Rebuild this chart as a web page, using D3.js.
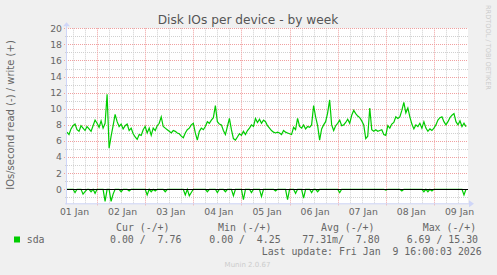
<!DOCTYPE html>
<html>
<head>
<meta charset="utf-8">
<script src="https://cdn.jsdelivr.net/npm/d3@7"></script>
<style>
  body { margin: 0; background: #f0f0f0; }
  svg { display: block; }
  text { font-family: "DejaVu Sans", sans-serif; fill: #666; }
  .mono { font-family: "DejaVu Sans Mono", monospace; font-size: 9.9px; }
</style>
</head>
<body>
<svg id="chart" width="497" height="275"></svg>
<script>
// hourly samples, starting 01 Jan 09:00 UTC
let startTime = Date.UTC(2026, 0, 1, 9)
let endTime = Date.UTC(2026, 0, 9, 17)

let writes = [
  7.1, 6.8, 7.5, 7.9, 8.1, 7.4, 7.2, 7.9, 7.6, 7.3,
  7.8, 7.5, 7.2, 7.9, 8.6, 8.2, 7.7, 8.5, 7.6, 8.2,
  11.8, 5.1, 6.6, 7.9, 9.3, 8.4, 7.8, 8.1, 7.5, 7.9,
  8.1, 7.3, 7.6, 6.9, 6.5, 6.2, 6.8, 6.7, 7.4, 7.8,
  7.0, 7.6, 6.7, 7.6, 7.3, 7.9, 8.2, 9.0, 7.8, 7.6,
  7.4, 7.2, 7.0, 7.3, 7.2, 7.0, 6.9, 6.6, 6.4, 7.0,
  7.4, 7.6, 8.0, 8.2, 7.0, 6.1, 7.2, 7.6, 7.4, 7.8,
  8.4, 8.2, 8.6, 8.9, 10.4, 8.4, 8.1, 8.0, 7.3, 6.8,
  7.8, 8.8, 7.4, 6.3, 6.1, 6.5, 6.9, 6.7, 7.2, 6.8,
  7.3, 7.6, 8.0, 7.8, 8.8, 8.3, 8.7, 8.2, 8.6, 8.4,
  7.9, 7.6, 7.3, 7.1, 7.0, 7.1, 7.0, 6.8, 7.3, 7.1,
  7.0, 6.9, 6.8, 7.7, 7.4, 8.8, 7.8, 7.6, 8.0, 7.5,
  7.8, 7.7, 8.0, 10.4, 9.0, 7.9, 6.1, 7.5, 8.0, 8.4,
  9.5, 11.1, 8.0, 7.3, 7.9, 8.2, 8.6, 7.9, 8.0, 8.3,
  8.7, 8.2, 9.2, 9.8, 9.4, 9.1, 8.9, 8.5, 8.0, 6.3,
  6.6, 10.1, 7.4, 7.2, 7.4, 7.2, 7.3, 7.4, 6.8, 6.7,
  7.9, 7.6, 8.1, 8.3, 9.0, 8.8, 9.0, 9.8, 10.8, 9.5,
  10.1, 9.0, 8.1, 7.5, 8.0, 7.8, 8.2, 7.6, 8.4, 7.6,
  7.2, 7.5, 7.3, 7.6, 8.0, 8.6, 8.9, 9.0, 8.4, 8.0,
  8.4, 8.9, 9.2, 9.4, 8.4, 8.0, 8.5, 7.8, 8.2, 7.76
]

let reads = [
  0, 0, 0, 0, 0.4, 0, 0, 0, 0.6, 0.3,
  0, 0, 0.3, 0, 0.5, 0, 0, 0, 0, 1.5,
  0, 0, 1.5, 0.6, 0, 0, 0, 0.3, 0, 0,
  0, 0.2, 0, 0, 0, 0, 0, 0, 0, 0,
  0.7, 0, 0.3, 0, 0.2, 0, 0, 0, 0, 0.3,
  0, 0, 0, 0, 0, 0, 0, 0, 0, 0.7,
  0, 0.8, 0.4, 0, 0, 0, 0, 0, 0, 0,
  0.3, 0, 0, 0, 0, 0.4, 0, 0, 0, 0.3,
  0, 0, 0, 0.8, 0, 0, 0, 0, 1.3, 0,
  0, 0, 0.4, 0, 0, 0, 0, 0.9, 0, 0,
  0, 0, 0, 0, 0.2, 0, 0, 0, 0, 0,
  1.3, 0, 0, 0, 0.5, 0, 0, 0, 1.1, 0,
  0, 0, 0.4, 0, 0, 0.3, 0, 0, 0, 0,
  0, 0, 0, 0, 0, 0, 0.4, 0, 0, 0,
  0, 0, 0, 0, 0, 0, 0, 0, 0, 0,
  0, 0, 0, 0, 0, 0, 0, 0, 0, 0.1,
  0, 0, 0, 0, 0, 0, 0, 0.2, 0, 0,
  0, 0, 0, 0, 0, 0, 0, 0, 0.3, 0,
  0.3, 0, 0.2, 0, 0, 0, 0, 0, 0, 0,
  0, 0, 0, 0, 0, 0, 0, 0, 0.7, 0
]

let yMajor = [0, 2, 4, 6, 8, 10, 12, 14, 16, 18, 20]
let yMinor = [-1, 1, 3, 5, 7, 9, 11, 13, 15, 17, 19]

let legendHead = ['Cur (-/+)', 'Min (-/+)', 'Avg (-/+)', 'Max (-/+)']
let legendVals = ['0.00 /  7.76', '0.00 /  4.25', '77.31m/  7.80', '6.69 / 15.30']
let lastUpdate = 'Last update: Fri Jan  9 16:00:03 2026'

const svg = d3.select('#chart')

const plotLeft = 67, plotRight = 468, plotTop = 28.3, plotBottom = 203.3

let x = d3.scaleUtc().domain([startTime, endTime]).range([plotLeft, plotRight])
let y = d3.scaleLinear().domain([-1.74, 20]).range([plotBottom, plotTop])

let timeOf = i => d3.utcHour.offset(new Date(startTime), i)

// canvas
svg.append('rect')
  .attr('x', plotLeft).attr('y', plotTop)
  .attr('width', plotRight - plotLeft).attr('height', plotBottom - plotTop)
  .attr('fill', '#fff')

// minor grid
let minorTimes = d3.utcHour.every(6).range(new Date(startTime), new Date(endTime))
  .filter(d => d.getUTCHours() !== 0)
svg.append('g').selectAll('line')
  .data(minorTimes)
  .enter()
  .append('line')
  .attr('x1', d => Math.round(x(d)) + 0.5).attr('x2', d => Math.round(x(d)) + 0.5)
  .attr('y1', plotTop).attr('y2', plotBottom)
  .attr('stroke', '#d0d0d0').attr('stroke-dasharray', '1,1')

svg.append('g').selectAll('line')
  .data(yMinor)
  .enter()
  .append('line')
  .attr('x1', plotLeft - 2).attr('x2', plotRight)
  .attr('y1', d => Math.round(y(d)) + 0.5).attr('y2', d => Math.round(y(d)) + 0.5)
  .attr('stroke', '#d0d0d0').attr('stroke-dasharray', '1,1')

// major grid
let days = d3.utcDay.range(new Date(startTime), new Date(endTime))
svg.append('g').selectAll('line')
  .data(days)
  .enter()
  .append('line')
  .attr('x1', d => Math.round(x(d)) + 0.5).attr('x2', d => Math.round(x(d)) + 0.5)
  .attr('y1', plotTop).attr('y2', plotBottom + 3)
  .attr('stroke', '#f0a0a0').attr('stroke-dasharray', '1,1')

svg.append('g').selectAll('line')
  .data(yMajor)
  .enter()
  .append('line')
  .attr('x1', plotLeft - 3).attr('x2', plotRight)
  .attr('y1', d => Math.round(y(d)) + 0.5).attr('y2', d => Math.round(y(d)) + 0.5)
  .attr('stroke', '#f0a0a0').attr('stroke-dasharray', '1,1')

// y tick labels
svg.append('g').selectAll('text')
  .data(yMajor)
  .enter()
  .append('text')
  .attr('x', plotLeft - 5)
  .attr('y', d => y(d) + 3.4)
  .attr('text-anchor', 'end')
  .style('font-size', '9.3px')
  .text(d => d)

// x labels at noon of each day
let noons = d3.utcDay.range(d3.utcDay.floor(new Date(startTime)), new Date(endTime))
  .map(d => d3.utcHour.offset(d, 12))
svg.append('g').selectAll('text')
  .data(noons)
  .enter()
  .append('text')
  .attr('x', d => x(d) + 1.5)
  .attr('y', 215)
  .attr('text-anchor', 'middle')
  .style('font-size', '9.3px')
  .text(d3.utcFormat('%d %b'))

// series
let line = d3.line()
  .x((d, i) => x(timeOf(i)))
  .y(d => y(d))

svg.append('path')
  .datum(reads.map(v => -v))
  .attr('d', line)
  .attr('fill', 'none')
  .attr('stroke', '#00cc00')
  .attr('stroke-width', 1.2)

svg.append('path')
  .datum(writes)
  .attr('d', line)
  .attr('fill', 'none')
  .attr('stroke', '#00cc00')
  .attr('stroke-width', 1.2)

// zero rule
svg.append('line')
  .attr('x1', plotLeft).attr('x2', plotRight)
  .attr('y1', Math.round(y(0)) + 0.5).attr('y2', Math.round(y(0)) + 0.5)
  .attr('stroke', '#000')

// axes with arrows
svg.append('line')
  .attr('x1', plotLeft - 0.5).attr('x2', plotLeft - 0.5)
  .attr('y1', plotBottom + 1).attr('y2', plotTop - 4)
  .attr('stroke', '#cfd6f8')
svg.append('path')
  .attr('d', `M${plotLeft - 4},${plotTop - 2} L${plotLeft - 0.5},${plotTop - 6} L${plotLeft + 3},${plotTop - 2} Z`)
  .attr('fill', '#cfd6f8')
svg.append('line')
  .attr('x1', plotLeft - 2).attr('x2', plotRight + 3)
  .attr('y1', plotBottom + 0.5).attr('y2', plotBottom + 0.5)
  .attr('stroke', '#cfd6f8')
svg.append('path')
  .attr('d', `M${plotRight + 1},${plotBottom - 3} L${plotRight + 6},${plotBottom + 0.5} L${plotRight + 1},${plotBottom + 4} Z`)
  .attr('fill', '#cfd6f8')

// titles
svg.append('text')
  .attr('x', 248).attr('y', 24)
  .attr('text-anchor', 'middle')
  .style('font-size', '12.2px')
  .style('fill', '#555')
  .text('Disk IOs per device - by week')

svg.append('text')
  .attr('transform', 'translate(14,115) rotate(-90)')
  .attr('text-anchor', 'middle')
  .style('font-size', '10px')
  .text('IOs/second read (-) / write (+)')

svg.append('text')
  .attr('transform', 'translate(486,5) rotate(90)')
  .attr('text-anchor', 'start')
  .style('font-size', '6.6px')
  .style('fill', '#ccc')
  .text('RRDTOOL / TOBI OETIKER')

// legend
let headX = [116, 218, 321, 422.7]
let valX = [110, 209.3, 302.3, 406.7]

svg.append('g').selectAll('text')
  .data(legendHead)
  .enter()
  .append('text')
  .attr('class', 'mono')
  .attr('x', (d, i) => headX[i])
  .attr('y', 231)
  .style('white-space', 'pre')
  .text(d => d)

svg.append('rect')
  .attr('x', 14).attr('y', 236.5)
  .attr('width', 6).attr('height', 6)
  .attr('fill', '#00cc00')

svg.append('text')
  .attr('class', 'mono')
  .attr('x', 26.7).attr('y', 243)
  .text('sda')

svg.append('g').selectAll('text')
  .data(legendVals)
  .enter()
  .append('text')
  .attr('class', 'mono')
  .attr('x', (d, i) => valX[i])
  .attr('y', 243)
  .style('white-space', 'pre')
  .text(d => d)

svg.append('text')
  .attr('class', 'mono')
  .attr('x', 261.7).attr('y', 254.5)
  .style('white-space', 'pre')
  .text(lastUpdate)

svg.append('text')
  .attr('x', 247.5).attr('y', 267)
  .attr('text-anchor', 'middle')
  .style('font-size', '7px')
  .style('fill', '#ccc')
  .text('Munin 2.0.67')
</script>
</body>
</html>
